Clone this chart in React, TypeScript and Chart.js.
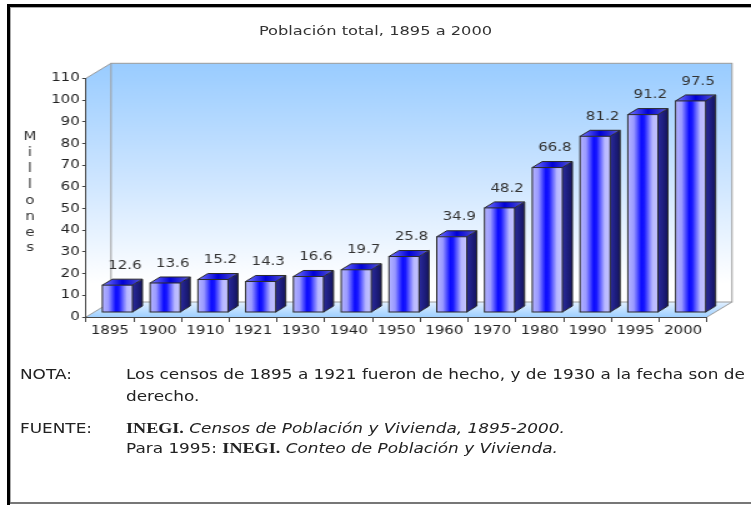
import React, { useEffect, useRef } from 'react';
import { Chart, registerables } from 'chart.js';

Chart.register(...registerables);

// ---------- data ----------
const categories = ['1895', '1900', '1910', '1921', '1930', '1940', '1950', '1960', '1970', '1980', '1990', '1995', '2000'];
const population = [12.6, 13.6, 15.2, 14.3, 16.6, 19.7, 25.8, 34.9, 48.2, 66.8, 81.2, 91.2, 97.5];
const yMin = 0;
const yMax = 110;
const yStep = 10;
const titleText = 'Población total, 1895 a 2000';
const axisTitle = 'Millones';

// ---------- layout (canvas units; the whole drawing is stretched horizontally) ----------
const W = 601;
const H = 505;
const S = 751 / W;
const FRONT_LEFT = 86 / S;
const FRONT_RIGHT = 707 / S;
const FRONT_TOP = 78.3;
const FRONT_BOTTOM = 317;
const WALL_DX = 20;
const WALL_DY = -15;
const BAR_DX = 8;
const BAR_DY = -6;
const BAR_OFF_X = 6;
const BAR_OFF_Y = -4.5;
const FONT = "'DejaVu Sans', Verdana, sans-serif";

const wallsPlugin = {
  id: 'walls3d',
  beforeDraw(chart: any) {
    const { ctx, chartArea } = chart;
    const L = chartArea.left, R = chartArea.right, T = chartArea.top, B = chartArea.bottom;
    ctx.save();
    const g = ctx.createLinearGradient(0, T + WALL_DY, 0, B + WALL_DY);
    g.addColorStop(0, '#99ccff');
    g.addColorStop(0.5, '#cfe6ff');
    g.addColorStop(0.92, '#ffffff');
    g.addColorStop(1, '#ffffff');
    ctx.fillStyle = g;
    // left wall
    ctx.beginPath();
    ctx.moveTo(L, T);
    ctx.lineTo(L + WALL_DX, T + WALL_DY);
    ctx.lineTo(L + WALL_DX, B + WALL_DY);
    ctx.lineTo(L, B);
    ctx.closePath();
    ctx.fill();
    // back wall
    ctx.fillRect(L + WALL_DX, T + WALL_DY, R - L, B - T);
    // floor
    const fg = ctx.createLinearGradient(0, B, 0, B + WALL_DY);
    fg.addColorStop(0, '#9fd0ff');
    fg.addColorStop(1, '#e2f0ff');
    ctx.fillStyle = fg;
    ctx.beginPath();
    ctx.moveTo(L, B);
    ctx.lineTo(L + WALL_DX, B + WALL_DY);
    ctx.lineTo(R + WALL_DX, B + WALL_DY);
    ctx.lineTo(R, B);
    ctx.closePath();
    ctx.fill();
    // edges
    ctx.strokeStyle = '#9a9a9a';
    ctx.lineWidth = 1;
    ctx.strokeRect(L + WALL_DX, T + WALL_DY, R - L, B - T);
    ctx.beginPath();
    ctx.moveTo(L, T);
    ctx.lineTo(L + WALL_DX, T + WALL_DY);
    ctx.moveTo(L, B);
    ctx.lineTo(L + WALL_DX, B + WALL_DY);
    ctx.moveTo(R, B);
    ctx.lineTo(R + WALL_DX, B + WALL_DY);
    ctx.stroke();
    ctx.restore();
  },
};

const bars3dPlugin = {
  id: 'bars3d',
  afterDatasetsDraw(chart: any) {
    const { ctx } = chart;
    const meta = chart.getDatasetMeta(0);
    const values = chart.data.datasets[0].data as number[];
    ctx.save();
    meta.data.forEach((el: any, i: number) => {
      const { x, y, base, width } = el.getProps(['x', 'y', 'base', 'width'], true);
      const x0 = x - width / 2 + BAR_OFF_X;
      const x1 = x0 + width;
      const top = y + BAR_OFF_Y;
      const bot = base + BAR_OFF_Y;

      // front face
      const fg = ctx.createLinearGradient(x0, 0, x1, 0);
      fg.addColorStop(0, '#b4b4ff');
      fg.addColorStop(0.2, '#9a9aff');
      fg.addColorStop(0.45, '#0a0aff');
      fg.addColorStop(0.55, '#1818ff');
      fg.addColorStop(0.82, '#b8b8ff');
      fg.addColorStop(1, '#c4c4ff');
      ctx.fillStyle = fg;
      ctx.fillRect(x0, top, width, bot - top);

      // side face
      const sg = ctx.createLinearGradient(x1, 0, x1 + BAR_DX, 0);
      sg.addColorStop(0, '#2a2a9a');
      sg.addColorStop(0.5, '#1e1e80');
      sg.addColorStop(1, '#14145c');
      ctx.fillStyle = sg;
      ctx.beginPath();
      ctx.moveTo(x1, top);
      ctx.lineTo(x1 + BAR_DX, top + BAR_DY);
      ctx.lineTo(x1 + BAR_DX, bot + BAR_DY);
      ctx.lineTo(x1, bot);
      ctx.closePath();
      ctx.fill();

      // top face
      const tg = ctx.createLinearGradient(x0, 0, x1 + BAR_DX, 0);
      tg.addColorStop(0, '#7a7aff');
      tg.addColorStop(0.5, '#0000d8');
      tg.addColorStop(1, '#5a5ad0');
      ctx.fillStyle = tg;
      ctx.beginPath();
      ctx.moveTo(x0, top);
      ctx.lineTo(x0 + BAR_DX, top + BAR_DY);
      ctx.lineTo(x1 + BAR_DX, top + BAR_DY);
      ctx.lineTo(x1, top);
      ctx.closePath();
      ctx.fill();

      // outlines
      ctx.strokeStyle = '#2a2a2a';
      ctx.lineWidth = 1;
      ctx.strokeRect(x0, top, width, bot - top);
      ctx.beginPath();
      ctx.moveTo(x0, top);
      ctx.lineTo(x0 + BAR_DX, top + BAR_DY);
      ctx.lineTo(x1 + BAR_DX, top + BAR_DY);
      ctx.lineTo(x1 + BAR_DX, bot + BAR_DY);
      ctx.lineTo(x1, bot);
      ctx.moveTo(x1, top);
      ctx.lineTo(x1 + BAR_DX, top + BAR_DY);
      ctx.stroke();

      // value label
      ctx.fillStyle = '#333333';
      ctx.font = `12px ${FONT}`;
      ctx.textAlign = 'center';
      ctx.textBaseline = 'middle';
      ctx.fillText(values[i].toFixed(1), x + 12, y - 24);
    });

    // vertical axis title, letters stacked
    ctx.fillStyle = '#333333';
    ctx.font = `12px ${FONT}`;
    ctx.textAlign = 'center';
    ctx.textBaseline = 'middle';
    const letters = axisTitle.split('');
    const y0 = 137.3;
    const y1 = 248.3;
    letters.forEach((ch, k) => {
      ctx.fillText(ch, 30 / S, y0 + ((y1 - y0) * k) / (letters.length - 1));
    });
    ctx.restore();
  },
};

export default function App() {
  const canvasRef = useRef<HTMLCanvasElement | null>(null);

  useEffect(() => {
    if (!canvasRef.current) return;
    Chart.defaults.font.family = FONT;
    const chart = new Chart(canvasRef.current, {
      type: 'bar',
      data: {
        labels: categories,
        datasets: [
          {
            data: population,
            backgroundColor: 'rgba(0,0,0,0)',
            borderWidth: 0,
            barPercentage: 0.63,
            categoryPercentage: 1,
          },
        ],
      },
      options: {
        responsive: false,
        animation: false,
        devicePixelRatio: 1,
        layout: { padding: { left: 0, top: FRONT_TOP, right: W - FRONT_RIGHT, bottom: 0 } },
        plugins: {
          legend: { display: false },
          tooltip: { enabled: false },
          title: { display: false },
        },
        scales: {
          x: {
            grid: { drawOnChartArea: false, drawTicks: true, tickLength: 5, tickColor: '#444', offset: true },
            border: { color: '#444', width: 1 },
            ticks: { color: '#222', font: { size: 12 }, padding: 2, maxRotation: 0, autoSkip: false },
            afterFit: (s: any) => {
              s.height = H - FRONT_BOTTOM;
            },
          },
          y: {
            min: yMin,
            max: yMax,
            ticks: { stepSize: yStep, color: '#222', font: { size: 12 }, padding: 2 },
            grid: { drawOnChartArea: false, drawTicks: true, tickLength: 3, tickColor: '#444' },
            border: { color: '#444', width: 1 },
            afterFit: (s: any) => {
              s.width = FRONT_LEFT;
            },
          },
        },
      } as any,
      plugins: [wallsPlugin, bars3dPlugin],
    });
    return () => chart.destroy();
  }, []);

  const noteFont: React.CSSProperties = {
    fontFamily: FONT,
    fontSize: 13.5,
    color: '#222',
    whiteSpace: 'nowrap',
  };
  const inegi: React.CSSProperties = {
    fontFamily: "'Liberation Serif', 'Times New Roman', serif",
    fontWeight: 'bold',
    fontSize: 14.5,
  };

  return (
    <div style={{ position: 'fixed', left: 0, top: 0, width: 751, height: 505, background: '#fff', overflow: 'hidden' }}>
      <div
        style={{
          position: 'absolute',
          left: 0,
          top: 0,
          width: W,
          height: H,
          transform: `scaleX(${S})`,
          transformOrigin: '0 0',
        }}
      >
        <canvas
          ref={canvasRef}
          width={W}
          height={H}
          style={{ position: 'absolute', left: 0, top: 0, width: W, height: H }}
        />
        <div
          style={{
            position: 'absolute',
            left: 0,
            top: 23,
            width: W,
            textAlign: 'center',
            fontFamily: FONT,
            fontSize: 13,
            lineHeight: '16px',
            color: '#333',
            whiteSpace: 'nowrap',
          }}
        >
          {titleText}
        </div>
        <div style={{ ...noteFont, position: 'absolute', left: 20 / S, top: 363, lineHeight: '22px' }}>NOTA:</div>
        <div style={{ ...noteFont, position: 'absolute', left: 126 / S, top: 363, lineHeight: '22px' }}>
          Los censos de 1895 a 1921 fueron de hecho, y de 1930 a la fecha son de
          <br />
          derecho.
        </div>
        <div style={{ ...noteFont, position: 'absolute', left: 20 / S, top: 418, lineHeight: '20px' }}>FUENTE:</div>
        <div style={{ ...noteFont, position: 'absolute', left: 126 / S, top: 418, lineHeight: '20px' }}>
          <span style={inegi}>INEGI.</span> <i>Censos de Población y Vivienda, 1895-2000.</i>
          <br />
          Para 1995: <span style={inegi}>INEGI.</span> <i>Conteo de Población y Vivienda.</i>
        </div>
      </div>
      {/* frame */}
      <div style={{ position: 'absolute', left: 7, top: 4, width: 744, height: 3, background: '#000' }} />
      <div style={{ position: 'absolute', left: 7, top: 4, width: 3, height: 501, background: '#000' }} />
      <div style={{ position: 'absolute', left: 10, top: 7, width: 741, height: 1, background: '#aaa' }} />
      <div style={{ position: 'absolute', left: 10, top: 7, width: 1, height: 495, background: '#aaa' }} />
      <div style={{ position: 'absolute', left: 10, top: 502, width: 741, height: 2, background: '#777' }} />
    </div>
  );
}
